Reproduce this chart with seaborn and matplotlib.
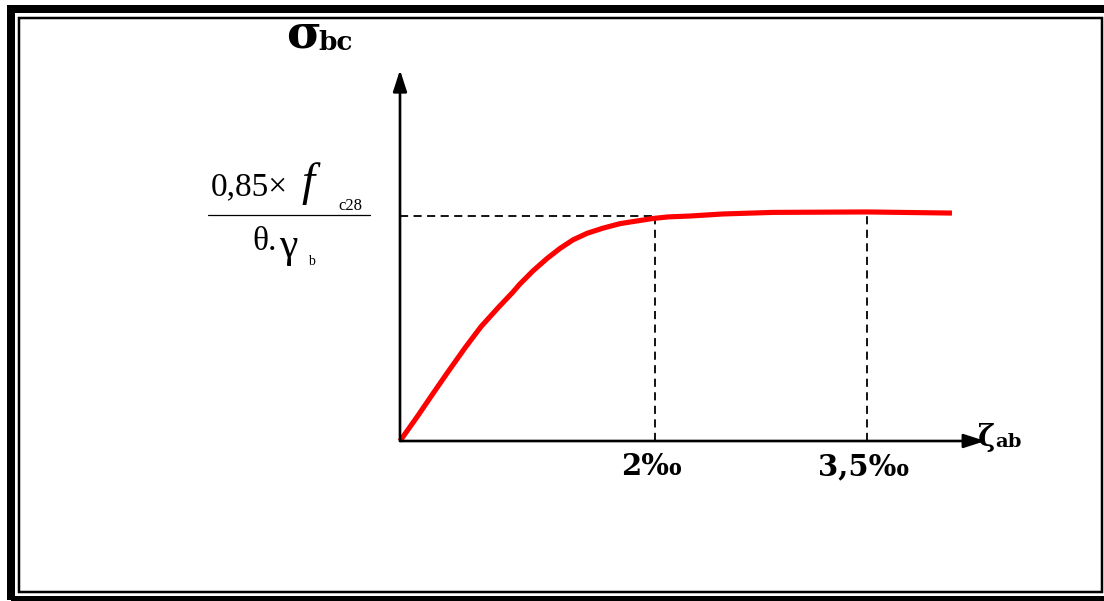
import matplotlib
matplotlib.use("Agg")
import matplotlib.pyplot as plt
from matplotlib.patches import Rectangle
import seaborn as sns
import pandas as pd

# strain (schematic units, 2 = 2 per mille) vs stress (1 = 0.85 fc28 / theta.gamma_b)
strain = [0.0, 0.141, 0.243, 0.376, 0.510, 0.635, 0.769, 0.886, 0.941, 1.043, 1.153, 1.255,
          1.357, 1.467, 1.592, 1.725, 1.859, 1.984, 2.102, 2.275, 2.533, 2.925, 3.663, 4.329]
stress = [0.0, 0.113, 0.198, 0.307, 0.414, 0.508, 0.592, 0.662, 0.698, 0.756, 0.811, 0.856,
          0.894, 0.923, 0.946, 0.966, 0.978, 0.989, 0.996, 1.0, 1.009, 1.016, 1.018, 1.013]

tick_pos = [2.0, 3.663]
tick_labels = ["2‰", "3,5‰"]
sigma_level = 1.0
x_axis_end = 4.59
y_axis_end = 1.649

W, H = 1104, 601

sns.set_style("white")
plt.rcParams["font.family"] = ["Liberation Serif", "DejaVu Serif"]
plt.rcParams["text.color"] = "black"

fig = plt.figure(figsize=(W / 100, H / 100), dpi=100)
ax = fig.add_axes([0, 0, 1, 1])
ax.set_xlim(-400 / 127.5, (W - 400) / 127.5)
ax.set_ylim((441 - H) / 225, 441 / 225)
ax.axis("off")


def px(x, y):
    return x / W, 1 - y / H


# double frame around the picture
fig.patches.append(Rectangle(px(11, 600), (1110 - 11) / W, (600 - 9) / H, transform=fig.transFigure,
                             fill=False, lw=8 * 0.72, ec="black"))
fig.patches.append(Rectangle(px(19, 592), (1101.5 - 19) / W, (592 - 17.5) / H, transform=fig.transFigure,
                             fill=False, lw=2.5 * 0.72, ec="black"))

# axes arrows
arrow = dict(arrowstyle="-|>,head_length=1.3,head_width=0.42", lw=1.9, color="black",
             shrinkA=0, shrinkB=0, mutation_scale=10)
ax.annotate("", xy=(0, y_axis_end), xytext=(0, 0), arrowprops=arrow)
ax.annotate("", xy=(x_axis_end, 0), xytext=(0, 0), arrowprops=arrow)

# dashed guides
dash = dict(color="black", lw=1.3, linestyle=(0, (4.5, 3)))
ax.hlines(sigma_level, 0, tick_pos[0], **dash)
ax.vlines(tick_pos, 0, sigma_level, **dash)

# stress-strain curve
df = pd.DataFrame({"strain": strain, "stress": stress})
sns.lineplot(data=df, x="strain", y="stress", color="red", lw=3.7, ax=ax,
             solid_capstyle="butt", solid_joinstyle="round")

# tick labels
for p, lab in zip(tick_pos, tick_labels):
    ax.text(p - 0.03, -0.115, lab, ha="center", va="center", fontsize=21,
            fontweight="bold", family="DejaVu Serif", color="black")

# axis titles
fig.text(*px(286, 48), "σ", fontsize=34, fontweight="bold", family="DejaVu Serif",
         ha="left", va="baseline")
fig.text(*px(318, 50), "bc", fontsize=19, fontweight="bold", family="DejaVu Serif",
         ha="left", va="baseline")
fig.text(*px(978, 446), "ζ", fontsize=21, fontweight="bold", family="DejaVu Serif",
         ha="left", va="baseline")
fig.text(*px(995, 447), "ab", fontsize=14, fontweight="bold", family="DejaVu Serif",
         ha="left", va="baseline")

# fraction 0,85 x fc28 / theta.gamma_b
fig.text(*px(211, 195), "0,85×", fontsize=24, ha="left", va="baseline")
fig.text(*px(301, 195), "f", fontsize=34, style="italic", ha="left", va="baseline")
fig.text(*px(338, 210), "c28", fontsize=12, ha="left", va="baseline")
fig.lines.append(plt.Line2D([208 / W, 370 / W], [1 - 215 / H, 1 - 215 / H],
                            transform=fig.transFigure, color="black", lw=0.9))
fig.text(*px(252, 250), "θ.", fontsize=24, ha="left", va="baseline")
fig.text(*px(279, 257), "γ", fontsize=30, ha="left", va="baseline")
fig.text(*px(308, 265), "b", fontsize=10, ha="left", va="baseline")

fig.savefig("out.png", dpi=100)
